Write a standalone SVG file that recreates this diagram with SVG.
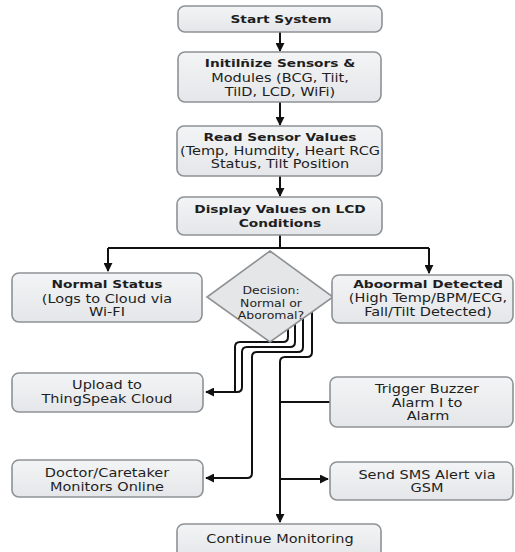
<svg xmlns="http://www.w3.org/2000/svg" width="515" height="552" viewBox="0 0 515 552">
<style>
.box{fill:url(#bg);stroke:#8e9295;stroke-width:1.6}
.dia{fill:#e4e6e8;stroke:#8e9295;stroke-width:1.6}
text{font-family:"DejaVu Sans","Verdana",sans-serif;fill:#1e1e1e;text-anchor:middle}
.b{font-weight:bold;font-size:11px}
.r{font-size:11.6px}
.d{font-size:10.4px}
.ln{fill:none;stroke:#111;stroke-width:2;stroke-linejoin:round}
.ar{fill:none;stroke:#111;stroke-width:2;stroke-linejoin:round;marker-end:url(#ah)}
</style>
<defs>
<linearGradient id="bg" x1="0" y1="0" x2="0" y2="1">
<stop offset="0" stop-color="#f3f4f5"/>
<stop offset="1" stop-color="#e4e6e9"/>
</linearGradient>
<marker id="ah" viewBox="0 0 10 10" refX="9" refY="5" markerWidth="4.5" markerHeight="4.5" orient="auto" markerUnits="strokeWidth">
<path d="M0,0 L10,5 L0,10 Z" fill="#111"/>
</marker>
</defs>

<g id="connectors">
<path class="ar" d="M280,32 V51"/>
<path class="ar" d="M280,102 V125"/>
<path class="ar" d="M280,176 V196"/>
<path class="ln" d="M280,235 V248"/>
<path class="ln" d="M108,248 H429"/>
<path class="ar" d="M108,248 V271"/>
<path class="ar" d="M429,248 V273"/>
<path class="ln" d="M288,329 V337 Q288,342 283,342 H240 Q235,342 235,347 V392"/>
<path class="ar" d="M295,324 V342 Q295,347 290,347 H247 Q242,347 242,352 V387 Q242,392 237,392 H206"/>
<path class="ar" d="M303,318 V347 Q303,352 298,352 H257 Q252,352 252,357 V473 Q252,478 247,478 H206"/>
<path class="ar" d="M312,312 V352 Q312,357 307,357 H285 Q280,357 280,362 V522"/>
<path class="ln" d="M280,402 H330"/>
<path class="ar" d="M280,479 H328"/>
</g>

<g id="start">
<rect class="box" x="178" y="6" width="204" height="26" rx="7"/>
<g transform="translate(281 0) scale(1.25 1)">
<text class="b" x="0" y="23">Start System</text>
</g>
</g>

<g id="init">
<rect class="box" x="178" y="52" width="203" height="50" rx="7"/>
<g transform="translate(280 0) scale(1.25 1)">
<text class="b" x="0" y="67">Initilñize Sensors &amp;</text>
<text class="r" x="0" y="82">Modules (BCG, Tiit,</text>
<text class="r" x="0" y="96">TilD, LCD, WiFi)</text>
</g>
</g>

<g id="read">
<rect class="box" x="177" y="126" width="205" height="50" rx="7"/>
<g transform="translate(280 0) scale(1.25 1)">
<text class="b" x="0" y="141">Read Sensor Values</text>
<text class="r" x="0" y="155">(Temp, Humdity, Heart RCG</text>
<text class="r" x="0" y="168">Status, Tilt Position</text>
</g>
</g>

<g id="display">
<rect class="box" x="177" y="197" width="205" height="38" rx="7"/>
<g transform="translate(280 0) scale(1.25 1)">
<text class="b" x="0" y="213">Display Values on LCD</text>
<text class="b" x="0" y="227">Conditions</text>
</g>
</g>

<g id="normal">
<rect class="box" x="12" y="273" width="190" height="49" rx="7"/>
<g transform="translate(107 0) scale(1.25 1)">
<text class="b" x="0" y="288">Normal Status</text>
<text class="r" x="0" y="303">(Logs to Cloud via</text>
<text class="r" x="0" y="316">Wi-FI</text>
</g>
</g>

<g id="decision">
<polygon class="dia" points="270,251 333,297 270,342 207,297"/>
<g transform="translate(271 0) scale(1.2 1)">
<text class="d" x="0" y="294">Decision:</text>
<text class="d" x="0" y="307">Normal or</text>
<text class="d" x="0" y="319">Aboromal?</text>
</g>
</g>

<g id="abnormal">
<rect class="box" x="332" y="275" width="181" height="48" rx="7"/>
<g transform="translate(428 0) scale(1.25 1)">
<text class="b" x="0" y="288">Aboormal Detected</text>
<text class="r" x="0" y="302">(High Temp/BPM/ECG,</text>
<text class="r" x="0" y="316">Fall/Tilt Detected)</text>
</g>
</g>

<g id="upload">
<rect class="box" x="12" y="373" width="191" height="39" rx="7"/>
<g transform="translate(107 0) scale(1.25 1)">
<text class="r" x="0" y="389">Upload to</text>
<text class="r" x="0" y="403">ThingSpeak Cloud</text>
</g>
</g>

<g id="doctor">
<rect class="box" x="12" y="460" width="191" height="37" rx="7"/>
<g transform="translate(107 0) scale(1.25 1)">
<text class="r" x="0" y="477">Doctor/Caretaker</text>
<text class="r" x="0" y="491">Monitors Online</text>
</g>
</g>

<g id="trigger">
<rect class="box" x="330" y="377" width="183" height="50" rx="7"/>
<g transform="translate(427 0) scale(1.25 1)">
<text class="r" x="0" y="393">Trigger Buzzer</text>
<text class="r" x="0" y="407">Alarm I to</text>
<text class="r" x="0.8" y="420">Alarm</text>
</g>
</g>

<g id="sms">
<rect class="box" x="330" y="462" width="183" height="38" rx="7"/>
<g transform="translate(427 0) scale(1.25 1)">
<text class="r" x="0" y="479">Send SMS Alert via</text>
<text class="r" x="0" y="492">GSM</text>
</g>
</g>

<g id="continue">
<rect class="box" x="177" y="524" width="204" height="34" rx="7"/>
<g transform="translate(280 0) scale(1.25 1)">
<text class="r" x="0" y="543">Continue Monitoring</text>
</g>
</g>
</svg>
